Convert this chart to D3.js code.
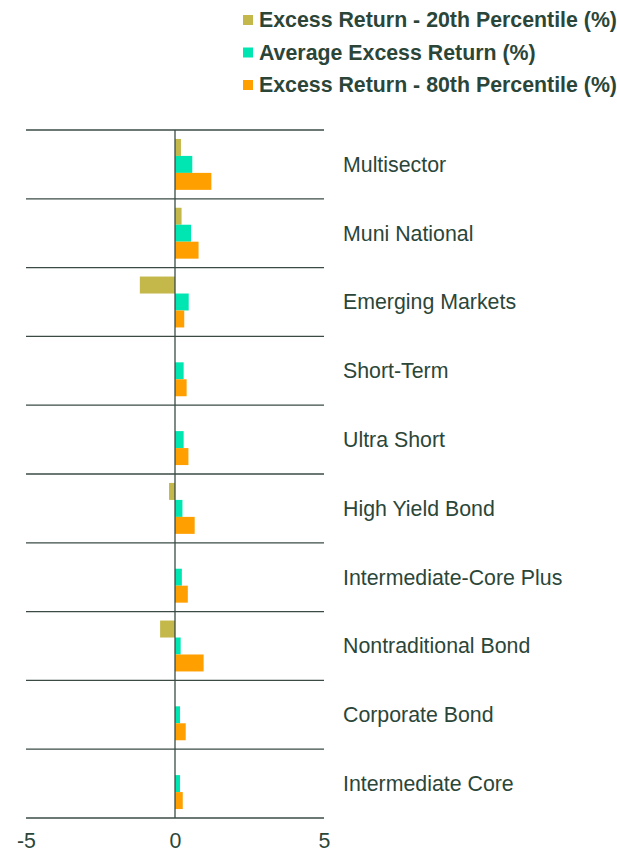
<!DOCTYPE html>
<html>
<head>
<meta charset="utf-8">
<script src="https://cdn.jsdelivr.net/npm/d3@7"></script>
<style>
  body { margin: 0; background: #fff; }
  svg { display: block; font-family: "Liberation Sans", Arial, sans-serif; }
</style>
</head>
<body>
<svg id="chart" width="617" height="852"></svg>
<script>
// categories, top to bottom
const categories = ["Multisector", "Muni National", "Emerging Markets", "Short-Term", "Ultra Short",
    "High Yield Bond", "Intermediate-Core Plus", "Nontraditional Bond", "Corporate Bond", "Intermediate Core"];

const seriesNames = ["Excess Return - 20th Percentile (%)", "Average Excess Return (%)", "Excess Return - 80th Percentile (%)"];
const seriesColors = ["#c4b84a", "#00e6b2", "#ff9f00"];

const p20 = [0.2, 0.22, -1.18, 0, 0, -0.2, 0, -0.5, 0, 0];
const avg = [0.58, 0.54, 0.46, 0.29, 0.29, 0.25, 0.23, 0.19, 0.17, 0.17];
const p80 = [1.22, 0.79, 0.31, 0.39, 0.45, 0.66, 0.43, 0.96, 0.36, 0.26];

const xTicks = [-5, 0, 5];

const textColor = "#2b4639",
    lineColor = "#3b4b44",
    fontSize = 21.33;

const svg = d3.select("#chart");

// scales
const x = d3.scaleLinear().domain([-5, 5]).range([26, 324]);
const y = d3.scaleBand().domain(categories).range([130, 818]).paddingInner(0.26).paddingOuter(0.13);
const ySub = d3.scaleBand().domain(d3.range(seriesNames.length)).range([0, y.bandwidth()]);

const values = [p20, avg, p80];
const rows = [];
categories.forEach((c, i) => {
    values.forEach((s, j) => rows.push({ cat: c, s: j, v: s[i] }));
});

// gridlines between categories
const bounds = d3.range(categories.length + 1).map(i => 130 + i * y.step());
svg.append("g")
    .selectAll("line")
    .data(bounds)
    .join("line")
    .attr("x1", x(-5))
    .attr("x2", x(5))
    .attr("y1", d => d)
    .attr("y2", d => d)
    .attr("stroke", lineColor)
    .attr("stroke-width", 1.3);

// bars
svg.append("g")
    .selectAll("rect")
    .data(rows)
    .join("rect")
    .attr("x", d => x(Math.min(0, d.v)))
    .attr("width", d => Math.abs(x(d.v) - x(0)))
    .attr("y", d => y(d.cat) + ySub(d.s))
    .attr("height", ySub.bandwidth())
    .attr("fill", d => seriesColors[d.s]);

// zero line
svg.append("line")
    .attr("x1", x(0))
    .attr("x2", x(0))
    .attr("y1", 130)
    .attr("y2", 818)
    .attr("stroke", lineColor)
    .attr("stroke-width", 1.3);

// category labels on the right
svg.append("g")
    .selectAll("text")
    .data(categories)
    .join("text")
    .attr("x", 343)
    .attr("y", d => y(d) + y.bandwidth() / 2)
    .attr("dy", "0.35em")
    .attr("fill", textColor)
    .style("font-size", fontSize + "px")
    .text(d => d);

// x axis labels (plain hyphen minus, as in the original)
const xAxis = d3.axisBottom(x).tickValues(xTicks).tickSize(0).tickFormat(d => String(d));
const gx = svg.append("g")
    .attr("transform", "translate(0, 830)")
    .call(xAxis);
gx.select(".domain").remove();
gx.selectAll("text")
    .attr("fill", textColor)
    .attr("font-family", "Liberation Sans, Arial, sans-serif")
    .style("font-size", fontSize + "px");

// legend
const legend = svg.append("g")
    .selectAll("g")
    .data(seriesNames)
    .join("g")
    .attr("transform", (d, i) => `translate(243, ${15 + i * 32.5})`);

legend.append("rect")
    .attr("width", 10)
    .attr("height", 10)
    .attr("fill", (d, i) => seriesColors[i]);

legend.append("text")
    .attr("x", 16)
    .attr("y", 5)
    .attr("dy", "0.35em")
    .attr("fill", textColor)
    .style("font-size", fontSize + "px")
    .style("font-weight", "bold")
    .text(d => d);
</script>
</body>
</html>
